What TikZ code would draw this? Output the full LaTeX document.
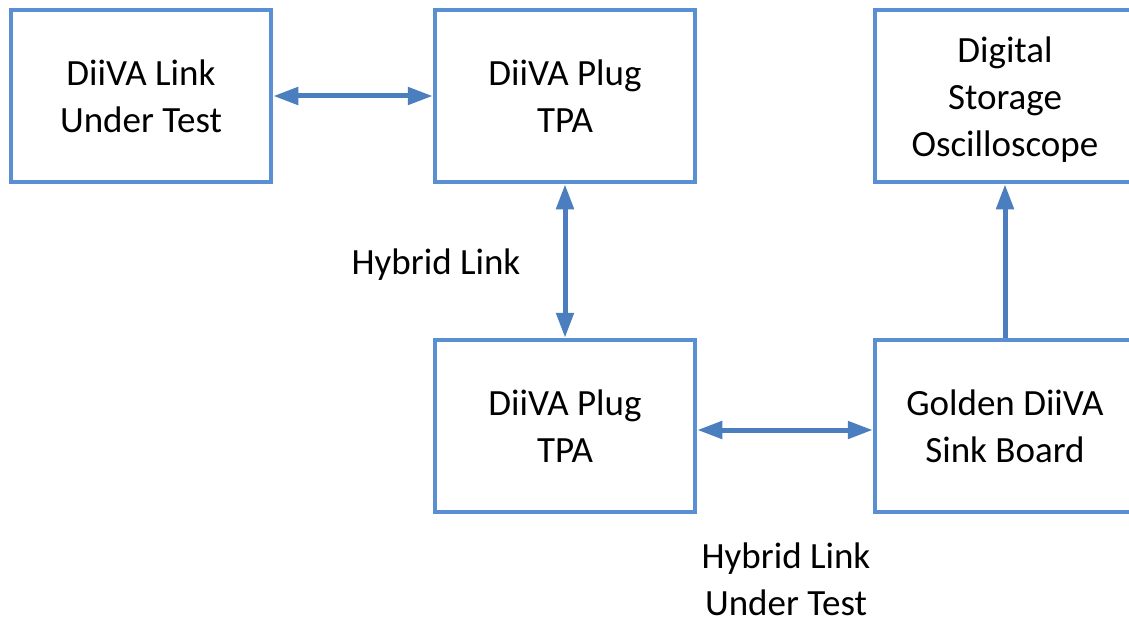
\documentclass[tikz,border=0pt]{standalone}
\usepackage{fontspec}
\setmainfont{Carlito}
\usetikzlibrary{arrows.meta}
\definecolor{boxblue}{HTML}{5B8FD4}
\definecolor{arrowblue}{HTML}{4A7EBE}
\tikzset{
  blk/.style={draw=boxblue, line width=4.5pt, minimum width=260pt, minimum height=172pt,
    align=center, inner sep=0pt, font=\fontsize{37}{47}\selectfont},
  conn/.style={draw=arrowblue, line width=5pt,
    -{Triangle[length=25pt,width=17pt]}},
  dconn/.style={draw=arrowblue, line width=5pt,
    {Triangle[length=25pt,width=17pt]}-{Triangle[length=25pt,width=17pt]}},
  lbl/.style={align=center, inner sep=0pt, font=\fontsize{37}{47}\selectfont}
}
\begin{document}
\begin{tikzpicture}[x=1pt,y=-1pt]
\useasboundingbox (0,0) rectangle (1129,623);
\clip (0,0) rectangle (1129,623);
\node[blk] (lut) at (141,96) {DiiVA Link\\Under Test};
\node[blk] (tpa1) at (565,96) {DiiVA Plug\\TPA};
\node[blk] (dso) at (1005,96) {\raisebox{-10pt}[0pt][0pt]{\parbox{250pt}{\centering Digital\\Storage\\Oscilloscope}}};
\node[blk] (tpa2) at (565,426) {DiiVA Plug\\TPA};
\node[blk] (sink) at (1005,426) {Golden DiiVA\\Sink Board};
\draw[dconn] (lut) -- (tpa1);
\draw[dconn] (tpa1) -- (tpa2);
\draw[dconn] ([yshift=-4pt]tpa2.east) -- ([yshift=-4pt]sink.west);
\draw[conn] (sink) -- (dso);
\node[lbl] (hl) at (436,265) {Hybrid Link};
\node[lbl] (hlut) at (786,579) {Hybrid Link\\Under Test};
\end{tikzpicture}
\end{document}
